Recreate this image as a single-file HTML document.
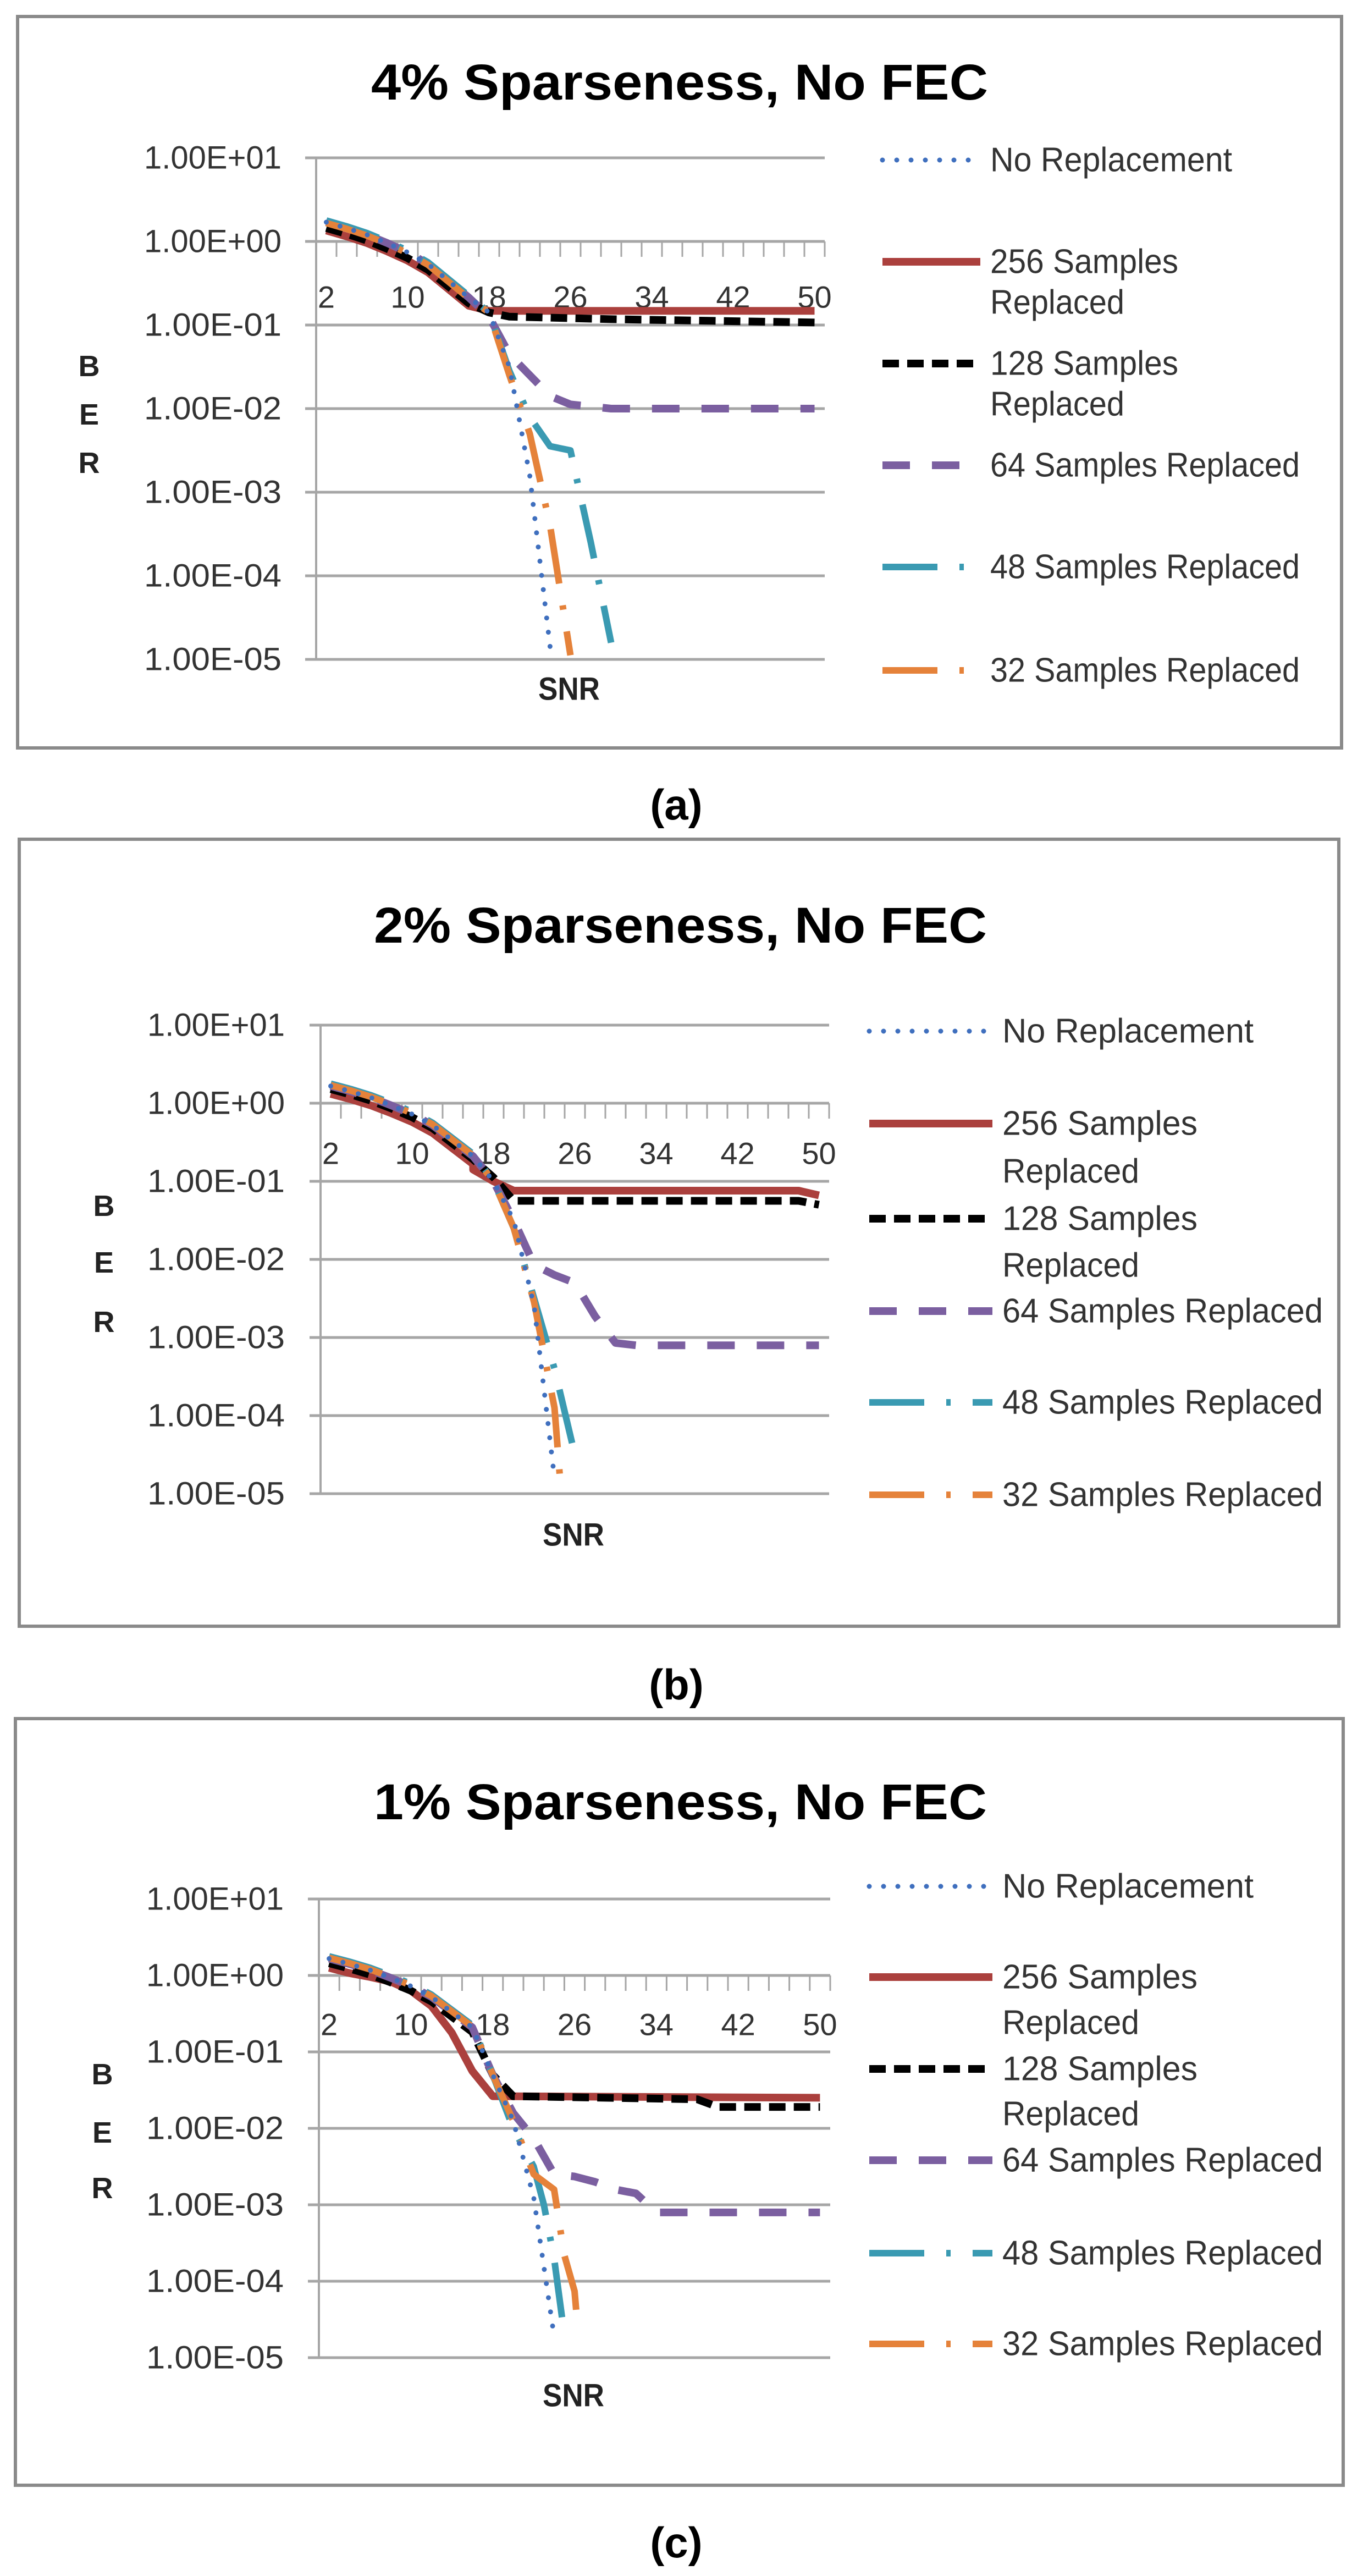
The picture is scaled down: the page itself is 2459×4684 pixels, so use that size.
<!DOCTYPE html>
<html><head><meta charset="utf-8"><style>
html,body{margin:0;padding:0;background:#fff;}
svg{display:block;}
text{font-family:"Liberation Sans",sans-serif;}
</style></head><body>
<svg id="s" width="2459" height="4684" viewBox="0 0 2459 4684" xmlns="http://www.w3.org/2000/svg">
<rect width="2459" height="4684" fill="#fff"/>
<rect x="32" y="30" width="2408" height="1330" fill="none" stroke="#8a8a8a" stroke-width="6"/>
<rect x="35" y="1526" width="2400" height="1431" fill="none" stroke="#8a8a8a" stroke-width="6"/>
<rect x="28" y="3125" width="2415" height="1394" fill="none" stroke="#8a8a8a" stroke-width="6"/>
<g font-family="Liberation Serif,serif" font-weight="bold" font-size="78" text-anchor="middle" fill="#000">
<text x="1230" y="1490">(a)</text>
<text x="1230" y="3090">(b)</text>
<text x="1230" y="4650">(c)</text>
</g>
<g id="g"></g>
<g font-weight="bold" font-size="92" fill="#000" dominant-baseline="central">
<text x="675" y="150" textLength="1122" lengthAdjust="spacingAndGlyphs">4% Sparseness, No FEC</text>
<text x="680" y="1683" textLength="1115" lengthAdjust="spacingAndGlyphs">2% Sparseness, No FEC</text>
<text x="680" y="3277" textLength="1115" lengthAdjust="spacingAndGlyphs">1% Sparseness, No FEC</text>
</g>
</svg>
<script>
var NS="http://www.w3.org/2000/svg",G=document.getElementById('g');
function el(t,a,txt){var e=document.createElementNS(NS,t);for(var k in a)e.setAttribute(k,a[k]);if(txt!==undefined)e.textContent=txt;G.appendChild(e);return e;}
var styles={
 blue:{c:"#3f6fbe",w:9,d:"0 26",cap:"round"},
 red:{c:"#ab403d",w:14,d:"",cap:"butt"},
 black:{c:"#000",w:14,d:"30 15",cap:"butt"},
 purple:{c:"#7b5fa0",w:14,d:"50 40",cap:"butt"},
 teal:{c:"#3a9ab2",w:12,d:"100 40 8 40",cap:"butt"},
 orange:{c:"#e5823a",w:12,d:"100 40 8 40",cap:"butt"}
};
function chart(o){
 var L=o.L,R=o.R,y0=o.y0,dec=o.dec,step=(R-L)/25;
 function px(x){return L+step*((x-2)/2+0.5);}
 function py(v){return y0-v*dec;}
 var labs=["1.00E+01","1.00E+00","1.00E-01","1.00E-02","1.00E-03","1.00E-04","1.00E-05"];
 for(var i=0;i<7;i++){var y=py(1-i);
  el('line',{x1:L-20,x2:R,y1:y,y2:y,stroke:"#a6a6a6","stroke-width":5});
  el('text',{x:o.labR,y:y,"text-anchor":"end","dominant-baseline":"central","font-size":58,fill:"#333",textLength:250,lengthAdjust:"spacingAndGlyphs"},labs[i]);}
 el('line',{x1:L,x2:L,y1:py(1),y2:py(-5),stroke:"#a6a6a6","stroke-width":4});
 for(var t=0;t<=25;t++){var x=L+step*t;el('line',{x1:x,x2:x,y1:y0,y2:y0+28,stroke:"#a6a6a6","stroke-width":3});}
 [2,10,18,26,34,42,50].forEach(function(v){el('text',{x:px(v),y:o.xly,"text-anchor":"middle","dominant-baseline":"central","font-size":56,fill:"#333"},String(v));});
 el('text',{x:o.snrx,y:o.snry,"text-anchor":"middle","dominant-baseline":"central","font-size":58,"font-weight":"bold",fill:"#222",textLength:112,lengthAdjust:"spacingAndGlyphs"},"SNR");
 ["B","E","R"].forEach(function(c,i){el('text',{x:o.bx,y:o.by[i],"text-anchor":"middle","dominant-baseline":"central","font-size":54,"font-weight":"bold",fill:"#222"},c);});
 var order=["red","black","purple","teal","orange","blue"];
 order.forEach(function(k){var s=styles[k],pts=o.data[k];
  var d=pts.map(function(p,i){return (i?"L":"M")+px(p[0]).toFixed(1)+" "+py(p[1]).toFixed(1);}).join(" ");
  var a={d:d,fill:"none",stroke:s.c,"stroke-width":s.w,"stroke-linecap":s.cap,"stroke-linejoin":"round"};
  if(s.d)a["stroke-dasharray"]=s.d;el('path',a);});
 var lg=o.leg,keys=["blue","red","black","purple","teal","orange"];
 var names=[["No Replacement"],["256 Samples","Replaced"],["128 Samples","Replaced"],["64 Samples Replaced"],["48 Samples Replaced"],["32 Samples Replaced"]];
 keys.forEach(function(k,i){var s=styles[k],y=lg.y[i][0];
  var a={x1:lg.x1,x2:lg.x2,y1:y,y2:y,stroke:s.c,"stroke-width":s.w,"stroke-linecap":s.cap};
  if(s.d)a["stroke-dasharray"]=s.d;el('line',a);
  names[i].forEach(function(n,j){var tl=n=="No Replacement"?lg.wn:(n.length>12?lg.wl:(n=="Replaced"?lg.wr:lg.ws));
   el('text',{x:lg.tx,y:lg.y[i][j],"dominant-baseline":"central","font-size":62,fill:"#333",textLength:tl,lengthAdjust:"spacingAndGlyphs"},n);});});
}
var early=[[2,0.2],[4,0.13],[6,0.05],[8,-0.05],[10,-0.16],[12,-0.3],[14,-0.5],[16,-0.7]];
function E(extra,off){return early.map(function(p){return [p[0],p[1]+(off||0)];}).concat(extra);}
chart({L:575,R:1500,y0:439,dec:152,labR:512,xly:540,snrx:1035,snry:1253,bx:162,by:[666,754,842],
 leg:{x1:1605,x2:1783,tx:1801,wn:440,wl:563,ws:342,wr:244,y:[[291],[476,550],[661,735],[846],[1031],[1219]]},
 data:{
  red:E([[18,-0.83],[50,-0.83]],-0.07),
  black:E([[18,-0.85],[20,-0.9],[30,-0.93],[40,-0.95],[50,-0.97]],-0.04),
  purple:E([[18,-0.9],[20,-1.35],[22,-1.6],[24,-1.85],[26,-1.95],[30,-2.0],[50,-2.0]],0.03),
  teal:E([[18,-0.85],[20,-1.55],[22,-2.1],[24,-2.45],[26,-2.5],[28,-3.6],[30,-4.8]],0.05),
  orange:E([[18,-0.85],[20,-1.6],[22,-2.3],[24,-3.4],[26,-4.95]],0.02),
  blue:E([[18,-0.85],[20,-1.5],[22,-2.8],[24,-4.85]],0.03)}});
chart({L:583,R:1508,y0:2006,dec:142,labR:518,xly:2097,snrx:1043,snry:2791,bx:189,by:[2193,2296,2404],
 leg:{x1:1581,x2:1805,tx:1823,wn:457,wl:583,ws:355,wr:249,y:[[1875],[2043,2130],[2216,2301],[2384],[2550],[2718]]},
 data:{
  red:E([[16,-0.85],[18,-1.0],[20,-1.12],[48,-1.12],[50,-1.18]],-0.08),
  black:E([[18,-0.95],[20,-1.25],[48,-1.25],[50,-1.3]],-0.02),
  purple:E([[18,-1.0],[20,-1.5],[22,-2.07],[24,-2.2],[26,-2.3],[28,-2.73],[30,-3.07],[32,-3.1],[50,-3.1]],0.02),
  teal:E([[18,-1.0],[20,-1.6],[22,-2.5],[24,-3.4],[26,-4.5]],0.05),
  orange:E([[18,-1.0],[20,-1.6],[22,-2.55],[24,-3.9],[24.6,-4.9]],0.03),
  blue:E([[18,-1.0],[20,-1.5],[22,-2.6],[24,-4.8]],0.02)}});
chart({L:580,R:1510,y0:3592,dec:139,labR:516,xly:3681,snrx:1043,snry:4356,bx:186,by:[3772,3878,3979],
 leg:{x1:1581,x2:1805,tx:1823,wn:457,wl:583,ws:355,wr:249,y:[[3430],[3595,3678],[3762,3844],[3928],[4097],[4262]]},
 data:{
  red:[[2,0.1],[4,0.03],[6,-0.02],[8,-0.08],[10,-0.2],[12,-0.4],[14,-0.75],[16,-1.25],[18,-1.58],[50,-1.6]],
  black:E([[18,-1.3],[20,-1.58],[38,-1.62],[40,-1.72],[50,-1.72]],-0.04),
  purple:E([[18,-1.3],[20,-1.8],[22,-2.13],[24,-2.6],[26,-2.63],[28,-2.7],[30,-2.8],[32,-2.85],[34,-3.1],[50,-3.1]],0.02),
  teal:E([[18,-1.3],[20,-2.0],[22,-2.5],[23,-3.0],[24,-3.7],[25,-4.7]],0.05),
  orange:E([[18,-1.3],[20,-1.9],[22,-2.6],[24,-2.8],[25,-3.66],[26,-4.13],[26.3,-4.6]],0.03),
  blue:E([[18,-1.3],[20,-1.9],[22,-2.9],[24,-4.72]],0.02)}});
</script>
</body></html>
